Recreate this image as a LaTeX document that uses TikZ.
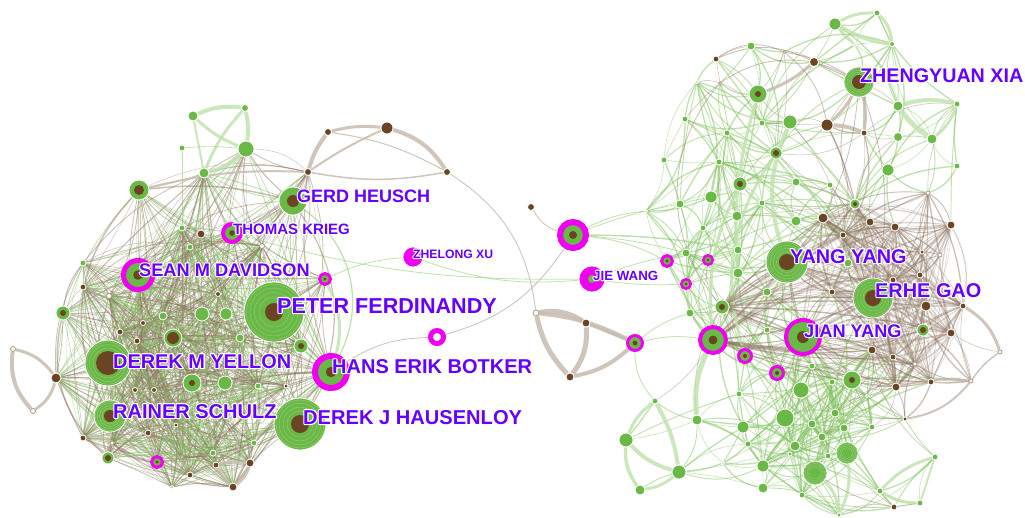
\documentclass[tikz,border=0pt]{standalone}
\usepackage{fontspec}
\setmainfont{Liberation Sans}
\pgfdeclarelayer{bgl}
\pgfdeclarelayer{edges}
\pgfsetlayers{bgl,edges,main}
\definecolor{ngreen}{RGB}{106,184,69}
\definecolor{nbrown}{RGB}{107,68,35}
\definecolor{nmag}{RGB}{240,0,240}
\definecolor{ebrown}{RGB}{140,115,95}
\definecolor{egreen}{RGB}{130,195,95}
\definecolor{tbrown}{RGB}{200,188,176}
\definecolor{tgreen}{RGB}{190,226,170}
\definecolor{labcol}{RGB}{102,0,255}
\newcommand\halo[1]{\makebox[0pt][l]{\special{pdf:literal direct q 1 Tr 1 1 1 RG 2.4 w 1 j}#1\special{pdf:literal direct Q}}#1}
\tikzset{
  gn/.style={circle, inner sep=0pt, fill=ngreen, draw=white, line width=.8pt},
  bn/.style={circle, inner sep=0pt, fill=nbrown, draw=white, line width=.8pt},
  eb/.style={draw=ebrown, opacity=.45},
  eg/.style={draw=egreen, opacity=.5},
  tb/.style={draw=tbrown, opacity=.85, line width=#1},
  tg/.style={draw=tgreen, opacity=.8, line width=#1},
  lab/.style={text=labcol, inner sep=0pt, anchor=base west},
}
\newcommand\lbl[5]{\node[lab, font=\fontsize{#4}{#4}\selectfont\bfseries] (#1) at (#2,#3) {\halo{#5}};}
\newcommand\drawnodes[1]{%
\foreach \n/\x/\y/\ty/\ra/\rb/\e in #1 {%
  \ifcase\ty\relax
    \node[gn, minimum size=2*\ra pt] (\n) at (\x,\y) {};
  \or
    \node[gn, minimum size=2*\ra pt] (\n) at (\x,\y) {};
    \fill[nbrown] (\n.center) circle (\rb pt);
  \or
    \node[bn, minimum size=2*\ra pt] (\n) at (\x,\y) {};
  \or
    \node[circle, inner sep=0pt, fill=ngreen, draw=nmag, line width=\rb pt, minimum size=2*\ra pt+\rb pt] (\n) at (\x,\y) {};
    \fill[nbrown] (\n.center) circle (0.4*\ra pt);
  \or
    \node[circle, inner sep=0pt, fill=nmag, draw=white, line width=.6pt, minimum size=2*\ra pt] (\n) at (\x,\y) {};
    \fill[ngreen] (\n.center) circle (\rb pt);
  \or
    \node[circle, inner sep=0pt, fill=white, draw=nbrown!60!white, line width=.7pt, minimum size=2*\ra pt] (\n) at (\x,\y) {};
  \or
    \node[gn, minimum size=2*\ra pt] (\n) at (\x,\y) {};
    \foreach \k in {0.5,0.65,0.8,0.92} \draw[ngreen!70!white, line width=.4pt] (\n.center) circle (\k*\ra pt);
    \fill[nbrown] (\n.center) circle (\rb pt);
  \or
    \node[circle, inner sep=0pt, fill=white, draw=nmag, line width=\rb pt, minimum size=2*\ra pt+\rb pt] (\n) at (\x,\y) {};
  \fi
}}
\def\Llist{%
  L1/139/190/1/10/5/0,
  PF/274/312/6/30/9/0,
  DY/108/363/6/23/12/0,
  RS/110/416/6/16/6/0,
  DH/300/424/6/26/9/0,
  HEB/331/372/3/13/6/0,
  GH/293/201/1/14/6/0,
  TK/232/233/3/7/4/0,
  SMD/138/275/3/12/5/0,
  m1/325/279/3/4/3/0,
  m3/157/462/3/4/3/0,
  a1/204/173/0/5/0/0,
  a2/246/149/0/8/0/0,
  b1/308/172/2/3.5/0/1,
  c1/182/228/0/3/0/0,
  c2/201/234/2/4/0/1,
  c3/190/247/0/3/0/0,
  c4/262/246/5/2.5/0/1,
  c5/83/263/0/3/0/0,
  c6/83/287/2/3/0/1,
  c7/109/296/5/2.5/0/1,
  c8/63/313/1/7/3/0,
  c9/218/294/2/2.5/0/1,
  c10/163/316/0/4/0/0,
  c11/202/314/0/7/0/0,
  c12/226/314/0/6/0/0,
  c13/143/323/2/2.5/0/1,
  c14/173/338/1/9/6/0,
  c15/120/332/2/3/0/1,
  c16/137/341/2/3/0/1,
  c17/240/338/0/4/0/0,
  c18/301/346/1/7/3/0,
  c19/56/378/2/5/0/1,
  c22/135/390/2/2.5/0/1,
  c23/154/390/2/2.5/0/1,
  c24/192/383/1/9/3/0,
  c25/225/383/0/7/0/0,
  c26/258/386/0/3/0/0,
  c27/286/386/2/2/0/1,
  c28/148/433/2/3/0/1,
  c29/176/425/2/2/0/1,
  c30/254/443/0/3/0/0,
  c31/213/453/0/3/0/0,
  c32/83/438/2/3/0/1,
  c33/112/443/5/2/0/1,
  c34/108/458/1/6/3/0,
  c35/190/475/2/3/0/1,
  c36/216/465/2/3/0/1,
  c37/250/463/2/4/0/1,
  c38/233/487/2/4/0/1,
  c39/172/487/2/1.5/0/1,
  c40/182/457/5/1.5/0/1}
\def\Mlist{%
  s1/531/207/2/3.5/0/1,
  MB/573/235/3/10/6/0,
  JW/592/279/4/13/4/0,
  t1/536/313/5/3/0/1,
  t2/586/323/2/4/0/1,
  t3/570/377/2/4/0/1,
  MG/635/343/3/6/3/0,
  ZX/413/257/4/10/0/0,
  m2/437/337/7/4/5/0,
  a3/193/116/0/5/0/0,
  a4/245/108/0/3.5/0/0,
  a5/182/148/0/3/0/0,
  b2/328/132/2/3.5/0/1,
  b3/387/128/2/6/0/1,
  b4/447/172/2/3.5/0/1,
  c20/13/349/5/2.5/0/1,
  c21/33/411/5/2.5/0/1}
\def\Rlist{%
  ZXA/859/82/6/15/7/1,
  r1/877/13/0/3/0/0,
  r2/835/24/0/6/0/0,
  r3/855/45/0/1.5/0/0,
  r4/892/44/0/2.5/0/0,
  r5/784/52/5/1.5/0/1,
  r6/716/59/2/3/0/1,
  r7/751/46/0/4/0/0,
  r8/814/62/2/4.5/0/1,
  r9/697/82/0/1.5/0/0,
  r10/720/83/5/1.5/0/1,
  r11/758/94/1/9/3/0,
  r12/685/119/0/3/0/0,
  r13/898/106/0/5/0/0,
  r14/957/104/0/3/0/0,
  r15/790/122/0/7/0/0,
  r16/827/125/2/6/0/1,
  r17/864/133/2/3/0/1,
  r18/762/123/0/3/0/0,
  r19/727/133/0/3/0/0,
  r20/898/137/0/4.5/0/0,
  r21/932/139/0/5/0/0,
  r22/957/166/0/3/0/0,
  r23/776/153/1/6/3/0,
  r24/719/162/0/3/0/0,
  r25/888/170/0/6/0/0,
  r26/796/182/0/4/0/0,
  r27/830/185/0/3/0/0,
  r28/740/184/1/7/3/0,
  r29/928/193/5/2/0/1,
  r30/711/197/0/6/0/0,
  r31/664/160/0/3/0/0,
  r32/680/204/0/4/0/0,
  r33/646/211/0/1.5/0/0,
  r34/762/203/0/3/0/0,
  r35/737/216/0/5/0/0,
  r36/796/221/0/5/0/0,
  r37/703/228/0/3/0/0,
  r38/855/204/1/5/2/1,
  r39/823/218/2/5/0/1,
  r40/870/222/2/4/0/1,
  r41/895/227/2/4/0/1,
  r42/951/225/2/4/0/1,
  r43/843/235/2/3/0/1,
  r44/686/253/0/4/0/0,
  r45/738/250/0/4/0/0,
  mA/667/261/3/4/3/0,
  mB/708/260/3/3.5/2.5/0,
  mC/686/284/3/3.5/2.5/0,
  YY/787/262/6/21/8/1,
  r46/848/263/0/4/0/0,
  r47/922/252/2/2/0/1,
  r48/940/255/5/2/0/1,
  r49/738/273/0/5/0/0,
  r50/767/292/0/4/0/0,
  r51/832/292/2/3/0/1,
  r52/920/275/2/3/0/1,
  r53/893/280/2/3/0/1,
  EG/873/298/6/20/8/1,
  HUB/722/307/1/7/3/1,
  r54/926/306/2/5/0/1,
  r55/963/306/2/3/0/1,
  r56/690/313/0/4/0/0,
  MBIG/713/340/3/11/4/0,
  JY/803/337/3/15/4/1,
  r57/767/330/0/3/0/0,
  r58/923/330/1/6/3/1,
  r59/951/333/2/4/0/1,
  mD/745/356/3/5/3/0,
  r60/872/350/2/4/0/1,
  r61/893/357/2/3/0/1,
  r62/915/364/5/2/0/1,
  r63/1000/352/5/2/0/1,
  mE/777/373/3/5/3/0,
  r64/812/366/0/3/0/0,
  r65/852/380/1/9/3/0,
  r66/896/387/2/4/0/1,
  r67/931/382/2/3/0/1,
  r68/971/381/5/2/0/1,
  r69/832/382/0/3/0/0,
  r70/801/390/0/8/0/0,
  r71/867/396/0/1.5/0/0,
  r72/905/419/2/2/0/1,
  r73/835/413/0/4/0/0,
  r74/812/424/0/4/0/0,
  r75/785/418/0/9/0/0,
  r76/844/428/0/4/0/0,
  r77/872/427/0/3/0/0,
  r78/822/437/0/4/0/0,
  r79/795/446/0/5/0/0,
  r80/828/456/0/3/0/0,
  r81/847/453/6/11/0/0,
  r82/815/473/6/12/0/0,
  r83/790/454/0/2/0/0,
  r84/935/457/0/3/0/0,
  r85/880/491/0/3/0/0,
  r86/920/503/0/3/0/0,
  r87/894/507/2/3/0/1,
  r88/802/495/0/3/0/0,
  r89/839/515/0/2/0/0,
  r90/739/394/0/3/0/0,
  r91/655/401/0/3/0/0,
  r92/697/420/0/5/0/0,
  r93/626/440/0/7/0/0,
  r94/679/472/0/7/0/0,
  r95/640/490/0/5/0/0,
  r96/743/427/0/6/0/0,
  r97/748/444/0/3/0/0,
  r98/763/466/0/6/0/0,
  r99/723/463/0/1.5/0/0,
  r100/763/488/0/5/0/0}
\begin{document}
\begin{tikzpicture}[x=1pt,y=-1pt]
\begin{pgfonlayer}{bgl}
\fill[white] (0,0) rectangle (1025,517);
\end{pgfonlayer}
\useasboundingbox (0,0) rectangle (1025,517);
\drawnodes{\Llist}
\drawnodes{\Mlist}
\drawnodes{\Rlist}
\begin{pgfonlayer}{edges}
% left cluster mesh
\foreach \n/\x/\y/\ty/\ra/\rb/\e [count=\i] in \Llist {%
 \foreach \m/\X/\Y/\TY/\RA/\RB/\E [count=\j] in \Llist {%
  \ifnum\j>\i\relax
   \pgfmathsetmacro\dd{veclen(\x-\X,\y-\Y)}%
   \pgfmathtruncatemacro\ok{(\dd<80)||((\dd<240)&&(mod(\i*\j+\i,3)<2))}%
   \ifnum\ok=1\relax
    \pgfmathtruncatemacro\bb{mod(\i*7+\j*11,41)-20}%
    \pgfmathsetmacro\lw{0.45+mod(\i+\j,3)*0.35}%
    \pgfmathtruncatemacro\cc{mod(\i+\j,5)<3}%
    \ifnum\cc=1\relax
     \draw[eb, line width=\lw pt] (\n) to[bend left=\bb] (\m);
    \else
     \draw[eg, line width=\lw pt] (\n) to[bend left=\bb] (\m);
    \fi
   \fi
  \fi
 }}
% right cluster mesh
\foreach \n/\x/\y/\ty/\ra/\rb/\e [count=\i] in \Rlist {%
 \foreach \m/\X/\Y/\TY/\RA/\RB/\E [count=\j] in \Rlist {%
  \ifnum\j>\i\relax
   \pgfmathsetmacro\dd{veclen(\x-\X,\y-\Y)}%
   \pgfmathtruncatemacro\ok{(\dd<58)||((\dd<125)&&(mod(\i*\j+\i,5)==0))}%
   \ifnum\ok=1\relax
    \pgfmathtruncatemacro\bb{mod(\i*5+\j*13,51)-25}%
    \pgfmathsetmacro\lw{0.5+mod(\i+\j,3)*0.4}%
    \pgfmathtruncatemacro\cc{(\e+\E==2)||((\e+\E==1)&&(mod(\i+\j,3)==0))}%
    \ifnum\cc=1\relax
     \draw[eb, line width=\lw pt] (\n) to[bend left=\bb] (\m);
    \else
     \draw[eg, line width=\lw pt] (\n) to[bend left=\bb] (\m);
    \fi
   \fi
  \fi
 }}
% dense brown group in the east
\foreach \p [count=\i] in {YY,EG,JY,HUB,MBIG,r38,r39,r40,r41,r42,r43,r47,r51,r52,r53,r54,r55,r58,r59,r60,r61,r62,r66,r67} {%
 \foreach \q [count=\j] in {YY,EG,JY,HUB,MBIG,r38,r39,r40,r41,r42,r43,r47,r51,r52,r53,r54,r55,r58,r59,r60,r61,r62,r66,r67} {%
  \ifnum\j>\i\relax
   \pgfmathtruncatemacro\bb{mod(\i*7+\j*3,41)-20}%
   \pgfmathsetmacro\lw{0.5+mod(\i*\j,4)*0.45}%
   \draw[eb, opacity=.3, line width=\lw pt] (\p) to[bend left=\bb] (\q);
  \fi
 }}
% top-left green triangle
\draw[tg=4pt] (a3) to[bend left=15] (a4);
\draw[tg=4pt] (a4) to[bend left=10] (a2);
\draw[tg=3pt] (a3) to[bend right=10] (a2);
\draw[tg=4pt] (a2) to[bend left=15] (a1);
\draw[tg=3pt] (a1) to[bend left=10] (a4);
\draw[tg=2pt] (a1) to (a3);
\draw[eg, line width=.7pt] (a5) to[bend left=5] (a2);
\draw[eg, line width=.7pt] (a5) to (c1);
\draw[eb, line width=.8pt] (a2) to[bend right=10] (b1);
\draw[eg, line width=.8pt] (a1) to[bend right=10] (GH);
% top brown group
\draw[tb=3pt] (b2) to[bend left=10] (b3);
\draw[tb=4pt] (b3) to[bend left=20] (b4);
\draw[tb=4pt] (b2) to[bend right=10] (b1);
\draw[tb=2pt] (b1) to[bend left=5] (b3);
\draw[tb=1.5pt] (b1) to[bend right=10] (b4);
\draw[tb=1pt] (b2) to[bend left=10] (b4);
\draw[tb=2pt] (L1) to[bend left=8] (b1);
\draw[eb, line width=.8pt] (b1) to (GH);
% link between clusters
\draw[eb, line width=.8pt] (b4) to[bend left=25] (t1);
\draw[tb=5pt] (t1) to[bend left=20] (t2);
\draw[tb=5pt] (t2) to[bend left=20] (t3);
\draw[tb=5pt] (t1) to[bend right=15] (t3);
\draw[tb=4pt] (t1) to[bend left=10] (MG);
\draw[tb=4pt] (t3) to[bend right=15] (MG);
\draw[tb=3pt] (t2) to (MG);
\draw[eb, line width=.8pt] (HEB) to[bend left=15] (m2);
\draw[eb, line width=.8pt] (m2) to[bend right=20] (MB);
\draw[eb, line width=.8pt] (s1) to[bend right=20] (MB);
\draw[eg, line width=.8pt] (m1) to[bend left=10] (ZX);
\draw[eg, line width=.8pt] (ZX) to[bend right=12] (JW);
\draw[eg, line width=.8pt] (TK) to[bend left=-8] (JW);
\draw[eg, line width=.8pt] (MB) to[bend left=10] (mA);
\draw[eg, line width=.8pt] (MB) to[bend left=5] (r32);
\draw[eg, line width=.8pt] (MB) to[bend left=5] (r44);
\draw[eg, line width=1.5pt] (MB) to[bend left=5] (r45);
\draw[eg, line width=.8pt] (MB) to[bend left=10] (r33);
\draw[eg, line width=.8pt] (JW) to[bend right=5] (mC);
\draw[eg, line width=.8pt] (JW) to[bend left=5] (r44);
\draw[eg, line width=.8pt] (MG) to[bend left=10] (MBIG);
\draw[eg, line width=.8pt] (MG) to[bend left=10] (r56);
\draw[eg, line width=.8pt] (MG) to[bend right=20] (r91);
% left-side arcs
\draw[tb=3pt] (c20) to[bend left=20] (c19);
\draw[tb=3pt] (c21) to[bend right=20] (c19);
\draw[tb=4pt] (c20) to[bend right=25] (c21);
\draw[tb=3pt] (c32) to[bend left=25] (c33);
\draw[tb=3pt] (c36) to[bend left=10] (c37);
\draw[tb=4pt] (c37) to[bend left=15] (c38);
\draw[tb=3pt] (c36) to[bend right=10] (c38);
\draw[eg, line width=1.2pt] (GH) to[bend left=40] (HEB);
\draw[eb, line width=1.2pt] (GH) to[bend left=30] (DH);
\draw[eb, line width=1.5pt] (L1) to[bend right=35] (RS);
\draw[eb, line width=1.5pt] (c8) to[bend right=30] (c34);
\draw[tg=3pt] (m1) to[bend left=20] (HEB);
\draw[eb, line width=1.5pt] (L1) to[bend left=10] (GH);
% right extras
\draw[tg=3pt] (r2) to[bend left=15] (r1);
\draw[tg=3pt] (r1) to[bend left=20] (r4);
\draw[tg=4pt] (r2) to[bend right=10] (r4);
\draw[tg=2pt] (r2) to (r3);
\draw[tg=4pt] (r13) to[bend left=15] (r14);
\draw[tg=3pt] (r14) to[bend left=15] (r21);
\draw[tg=5pt] (r13) to[bend right=10] (r21);
\draw[tb=3pt] (ZXA) to[bend left=10] (r16);
\draw[tb=4pt] (r16) to[bend left=10] (r17);
\draw[tb=3pt] (ZXA) to[bend left=10] (r17);
\draw[tb=3pt] (r8) to[bend left=10] (r11);
\draw[eb, line width=1pt] (r8) to (ZXA);
\draw[eb, line width=.8pt] (r6) to[bend left=30] (r5);
\draw[eb, line width=.8pt] (r5) to[bend left=10] (ZXA);
\draw[eb, line width=.8pt] (r10) to[bend left=20] (r8);
\draw[eb, line width=.8pt] (r10) to[bend right=40] (HUB);
\draw[eb, line width=.8pt] (r5) to[bend left=20] (r16);
\draw[eb, line width=.8pt] (ZXA) to[bend left=10] (r39);
\draw[eb, line width=.8pt] (ZXA) to[bend left=15] (EG);
\draw[tb=3pt] (r55) to[bend left=20] (r63);
\draw[tb=2pt] (r68) to[bend left=20] (r72);
\draw[tb=2pt] (r66) to[bend left=10] (r68);
\draw[tg=3pt] (r93) to[bend left=15] (r91);
\draw[tg=4pt] (r93) to[bend right=15] (r94);
\draw[tg=4pt] (r91) to[bend left=10] (r94);
\draw[tg=3pt] (r93) to[bend right=20] (r95);
\draw[tg=3pt] (r95) to[bend right=15] (r94);
\draw[tg=3pt] (r84) to[bend right=15] (r85);
\draw[tg=3pt] (r85) to[bend right=15] (r86);
\draw[tg=2pt] (r84) to (r86);
\draw[tg=5pt] (MBIG) to[bend right=15] (r92);
\draw[tg=3pt] (r82) to[bend left=20] (r89);
\draw[tg=3pt] (r81) to[bend left=15] (r89);
\draw[tg=3pt] (r28) to[bend right=15] (MBIG);
\draw[tg=3pt] (r11) to[bend right=10] (r49);
\draw[tg=4pt] (r15) to[bend right=20] (YY);
\draw[tg=3pt] (r23) to[bend right=25] (mD);
\draw[eb, line width=.8pt] (r82) to[bend right=10] (r87);
\foreach \q in {YY,EG,r39,r40,r41,r54,r60,r59,JY} \draw[eb, line width=1.4pt, opacity=.5] (HUB) to[bend left=5] (\q);
\foreach \q in {JY,EG,r60,r66,r67,r61} \draw[eb, line width=1.2pt, opacity=.45] (MBIG) to[bend right=8] (\q);
\end{pgfonlayer}
% labels
\lbl{lZXA}{860}{82}{19.7}{ZHENGYUAN XIA}
\lbl{lGH}{297}{202.5}{18}{GERD HEUSCH}
\lbl{lTK}{233}{234}{15}{THOMAS KRIEG}
\lbl{lSMD}{139}{276}{18.2}{SEAN M DAVIDSON}
\lbl{lPF}{277}{313}{21.6}{PETER FERDINANDY}
\lbl{lZX}{413}{258}{12.2}{ZHELONG XU}
\lbl{lHEB}{332}{373}{20}{HANS ERIK BOTKER}
\lbl{lDY}{113}{368}{19.9}{DEREK M YELLON}
\lbl{lRS}{113}{418}{20}{RAINER SCHULZ}
\lbl{lDH}{303}{424}{20.1}{DEREK J HAUSENLOY}
\lbl{lJW}{593}{280}{13.3}{JIE WANG}
\lbl{lYY}{790}{263}{19.8}{YANG YANG}
\lbl{lEG}{875}{297}{19.9}{ERHE GAO}
\lbl{lJY}{804}{337}{18.2}{JIAN YANG}
\end{tikzpicture}
\end{document}
